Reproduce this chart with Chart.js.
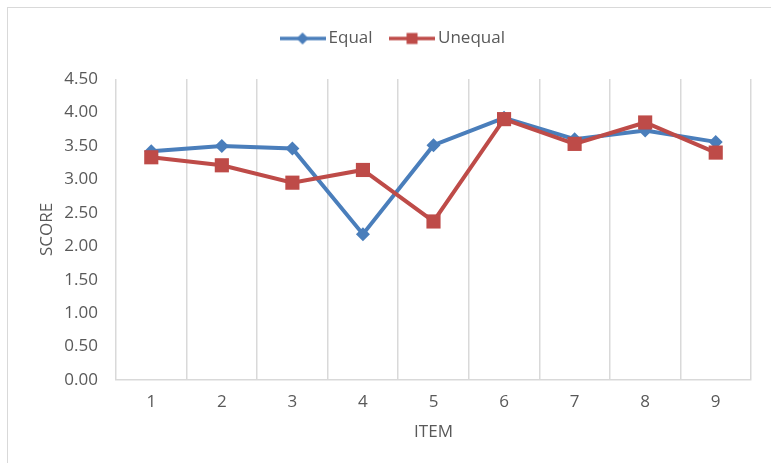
<!DOCTYPE html>
<html><head><meta charset="utf-8">
<script src="https://cdn.jsdelivr.net/npm/chart.js@4"></script>
<style>
html,body{margin:0;padding:0;background:#fff;overflow:hidden;width:771px;height:463px;}
#frame{position:absolute;left:7px;top:7px;width:820px;height:520px;border:1.5px solid #d9d9d9;}
#wrap{position:absolute;left:0;top:0;width:789px;height:463px;}
</style></head><body>
<div id="frame"></div>
<div id="wrap"><canvas id="c" width="789" height="463"></canvas></div>
<script>
const categories = ['1', '2', '3', '4', '5', '6', '7', '8', '9'];
const seriesNames = ['Equal', 'Unequal'];
const equalScores = [3.42, 3.50, 3.46, 2.18, 3.51, 3.92, 3.60, 3.73, 3.56];
const unequalScores = [3.33, 3.21, 2.95, 3.14, 2.37, 3.90, 3.53, 3.85, 3.40];
const yTicks = [0, 0.5, 1, 1.5, 2, 2.5, 3, 3.5, 4, 4.5];
const xTitle = 'ITEM';
const yTitle = 'SCORE';

const BLUE = '#4A7EBB';
const RED = '#BE4B48';
const TEXT = '#595959';
const GRID = '#d9d9d9';
const FONT = '"Open Sans", "Noto Sans", sans-serif';
const FS = 17;

function legendImage(color, style) {
  const cv = document.createElement('canvas');
  cv.width = 46; cv.height = 16;
  const g = cv.getContext('2d');
  g.strokeStyle = color; g.lineWidth = 3.5;
  g.beginPath(); g.moveTo(0, 8); g.lineTo(46, 8); g.stroke();
  g.fillStyle = color;
  if (style === 'diamond') {
    g.beginPath(); g.moveTo(23, 2); g.lineTo(29, 8); g.lineTo(23, 14); g.lineTo(17, 8); g.closePath(); g.fill();
  } else {
    g.fillRect(17.5, 2.5, 11, 11);
  }
  return cv;
}
const legendImgs = [legendImage(BLUE, 'diamond'), legendImage(RED, 'square')];

const chart = new Chart(document.getElementById('c'), {
  type: 'line',
  data: {
    labels: categories,
    datasets: [
      { label: seriesNames[0], data: equalScores, borderColor: BLUE, backgroundColor: BLUE,
        borderWidth: 4, pointStyle: 'rectRot', pointRadius: 7, pointBorderWidth: 0,
        pointBackgroundColor: BLUE, tension: 0, order: 1 },
      { label: seriesNames[1], data: unequalScores, borderColor: RED, backgroundColor: RED,
        borderWidth: 4, pointStyle: 'rect', pointRadius: 10, pointBorderWidth: 0,
        pointBackgroundColor: RED, tension: 0, order: 0 }
    ]
  },
  options: {
    responsive: false,
    animation: false,
    devicePixelRatio: 1,
    layout: { padding: { top: 8, right: 38, left: 39, bottom: 0 } },
    plugins: {
      tooltip: { enabled: false },
      legend: {
        position: 'top',
        labels: {
          usePointStyle: true,
          pointStyleWidth: 35,
          padding: 22,
          color: TEXT,
          font: { family: FONT, size: FS },
          generateLabels: (ch) => ch.data.datasets.map((ds, i) => ({
            text: ds.label, fillStyle: ds.borderColor, strokeStyle: ds.borderColor,
            lineWidth: 0, pointStyle: legendImgs[i], datasetIndex: i, hidden: false, fontColor: TEXT
          }))
        }
      }
    },
    scales: {
      x: {
        type: 'category',
        offset: true,
        grid: { display: true, offset: true, color: GRID, lineWidth: 1.5, drawTicks: false },
        border: { display: true, color: GRID, width: 1.5 },
        ticks: { color: TEXT, font: { family: FONT, size: FS }, padding: 12, maxRotation: 0 },
        title: { display: true, text: xTitle, color: TEXT, font: { family: FONT, size: FS }, padding: { top: 0, bottom: 21 } },
        afterFit: (s) => { s.height = 83; }
      },
      y: {
        min: 0, max: 4.5,
        afterBuildTicks: (s) => { s.ticks = yTicks.map(v => ({ value: v })); },
        grid: { display: false, drawTicks: false },
        border: { display: false },
        ticks: { color: TEXT, font: { family: FONT, size: FS }, padding: 18, callback: (v) => Number(v).toFixed(2) },
        title: { display: true, text: yTitle, color: TEXT, font: { family: FONT, size: FS }, padding: { top: -2, bottom: 0 } },
        afterFit: (s) => { s.width = 77; }
      }
    }
  }
});
const origFit = chart.legend.fit;
chart.legend.fit = function () { origFit.call(this); this.height = 71; };
chart.update();
</script>
</body></html>
